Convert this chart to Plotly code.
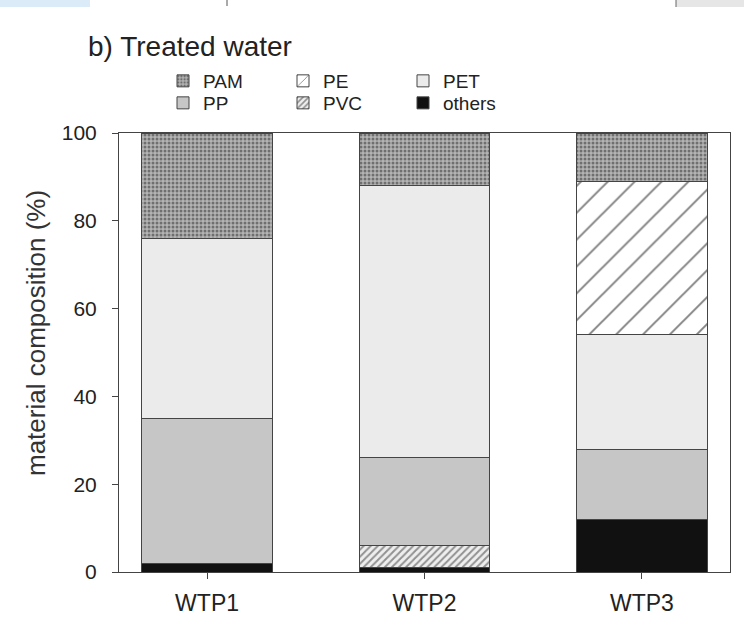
import plotly.graph_objects as go

# ---- data (material composition, %) ----
categories = ["WTP1", "WTP2", "WTP3"]
others = [2, 1, 12]
pvc = [0, 5, 0]
pp = [33, 20, 16]
pet = [41, 62, 26]
pe = [0, 0, 35]
pam = [24, 12, 11]

y_ticks = [0, 20, 40, 60, 80, 100]

FONT = "Liberation Sans, Arial, sans-serif"
W, H = 744, 627
L, R, T, B = 119, 14, 133, 55

line = dict(color="#444444", width=1)

fig = go.Figure()

# stacked from bottom to top
fig.add_trace(go.Bar(x=categories, y=others, name="others", legend="legend2", legendrank=3,
                     marker=dict(color="#111111", line=line)))
fig.add_trace(go.Bar(x=categories, y=pvc, name="PVC", legend="legend2", legendrank=2,
                     marker=dict(color="#eeeeee", line=line,
                                 pattern=dict(shape="/", fgcolor="#333333", bgcolor="#eeeeee",
                                              size=5, solidity=0.4))))
fig.add_trace(go.Bar(x=categories, y=pp, name="PP", legend="legend2", legendrank=1,
                     marker=dict(color="#c6c6c6", line=line)))
fig.add_trace(go.Bar(x=categories, y=pet, name="PET", legend="legend", legendrank=3,
                     marker=dict(color="#ebebeb", line=line)))
fig.add_trace(go.Bar(x=categories, y=pe, name="PE", legend="legend", legendrank=2,
                     marker=dict(color="#ffffff", line=line,
                                 pattern=dict(shape="/", fgcolor="#000000", bgcolor="#ffffff",
                                              size=19, solidity=0.1))))
fig.add_trace(go.Bar(x=categories, y=pam, name="PAM", legend="legend", legendrank=1,
                     marker=dict(color="#909090", line=line,
                                 pattern=dict(shape=".", fgcolor="#2a2a2a", bgcolor="#b4b4b4",
                                              size=4, solidity=0.45))))


def px(x):
    return (x - L) / (W - L - R)


def py(y):
    return (H - B - y) / (H - T - B)


legend_common = dict(orientation="h", xref="container", yref="container", traceorder="normal",
                     xanchor="left", yanchor="middle", font=dict(family=FONT, size=19, color="#222"),
                     bgcolor="rgba(0,0,0,0)", entrywidth=75, entrywidthmode="pixels",
                     itemclick=False, tracegroupgap=0)

fig.update_layout(
    width=W, height=H,
    margin=dict(l=L, r=R, t=T, b=B, autoexpand=False),
    paper_bgcolor="white", plot_bgcolor="white",
    barmode="stack", bargap=0.4,
    font=dict(family=FONT, color="#222"),
    title=dict(text="b) Treated water", x=88 / W, xanchor="left", xref="container",
               y=1 - 46 / H, yanchor="middle", yref="container",
               font=dict(family=FONT, size=28, color="#222")),
    legend=dict(x=163 / W, y=1 - 81 / H, **legend_common),
    legend2=dict(x=163 / W, y=1 - 103 / H, **legend_common),
    xaxis=dict(range=[-0.405, 2.405], showline=True, linecolor="#444", linewidth=1, mirror=True,
               ticks="outside", ticklen=6, tickcolor="#444", ticklabelstandoff=4,
               tickfont=dict(family=FONT, size=23, color="#222"), showgrid=False, zeroline=False),
    yaxis=dict(range=[0, 100], tickvals=y_ticks, showline=True, linecolor="#444", linewidth=1,
               mirror=True, ticks="outside", ticklen=6, tickcolor="#444", ticklabelstandoff=11,
               tickfont=dict(family=FONT, size=21, color="#222"), showgrid=False, zeroline=False),
    annotations=[
        dict(text="material composition (%)", xref="paper", yref="paper", x=px(36), y=py(333),
             xanchor="center", yanchor="middle", textangle=-90, showarrow=False,
             font=dict(family=FONT, size=26, color="#333")),
    ],
    shapes=[
        dict(type="rect", xref="paper", yref="paper", x0=px(0), x1=px(90), y0=py(0), y1=py(7),
             fillcolor="#dcebf8", line=dict(width=0), layer="above"),
        dict(type="rect", xref="paper", yref="paper", x0=px(676), x1=px(744), y0=py(0), y1=py(7),
             fillcolor="#e6e6e6", line=dict(width=0), layer="above"),
        dict(type="line", xref="paper", yref="paper", x0=px(676), x1=px(676), y0=py(0), y1=py(7),
             line=dict(color="#666", width=1)),
        dict(type="line", xref="paper", yref="paper", x0=px(227), x1=px(227), y0=py(0), y1=py(6),
             line=dict(color="#555", width=1)),
    ],
)

fig.write_html("out.html", config={"displayModeBar": False},
               post_script="document.body.style.margin='0';")
